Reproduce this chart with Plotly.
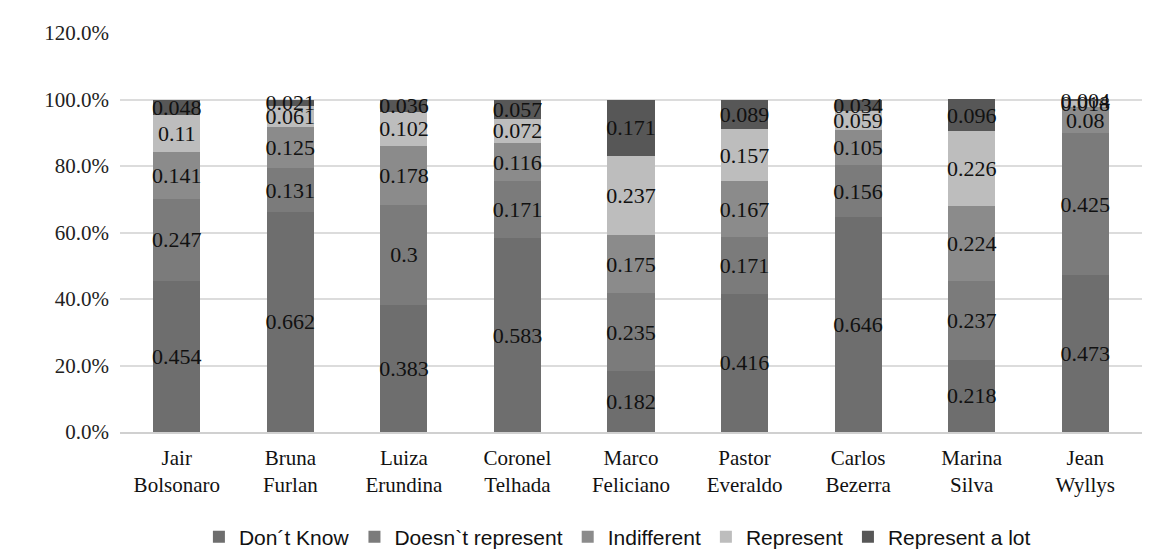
import plotly.graph_objects as go

categories = ["Jair<br>Bolsonaro", "Bruna<br>Furlan", "Luiza<br>Erundina", "Coronel<br>Telhada",
              "Marco<br>Feliciano", "Pastor<br>Everaldo", "Carlos<br>Bezerra", "Marina<br>Silva", "Jean<br>Wyllys"]
dont_know = [0.454, 0.662, 0.383, 0.583, 0.182, 0.416, 0.646, 0.218, 0.473]
doesnt_represent = [0.247, 0.131, 0.3, 0.171, 0.235, 0.171, 0.156, 0.237, 0.425]
indifferent = [0.141, 0.125, 0.178, 0.116, 0.175, 0.167, 0.105, 0.224, 0.08]
represent = [0.11, 0.061, 0.102, 0.072, 0.237, 0.157, 0.059, 0.226, 0.018]
represent_a_lot = [0.048, 0.021, 0.036, 0.057, 0.171, 0.089, 0.034, 0.096, 0.004]

series = [
    ("Don\u00b4t Know", dont_know, "#6e6e6e"),
    ("Doesn`t represent", doesnt_represent, "#7b7b7b"),
    ("Indifferent", indifferent, "#8b8b8b"),
    ("Represent", represent, "#bdbdbd"),
    ("Represent a lot", represent_a_lot, "#575757"),
]

SERIF = "Liberation Serif, Times New Roman, Tinos, DejaVu Serif, serif"

fig = go.Figure()
for name, vals, color in series:
    fig.add_trace(go.Bar(
        x=categories, y=vals, name=name,
        marker=dict(color=color, line=dict(width=0)),
        text=[f"{v:g}" for v in vals],
        textposition="inside", insidetextanchor="middle",
        textfont=dict(family=SERIF, size=22, color="#111111"),
        textangle=0, cliponaxis=False,
    ))

fig.update_layout(
    barmode="stack", bargap=0.585,
    width=1152, height=542,
    margin=dict(l=112, r=18, t=25, b=118),
    plot_bgcolor="white", paper_bgcolor="white",
    uniformtext=dict(minsize=22, mode="show"),
    legend=dict(orientation="h", x=0.529, xanchor="center", xref="container",
                y=0.024, yanchor="middle", yref="container",
                font=dict(family="Liberation Sans", size=21, color="#111111"),
                itemwidth=30, traceorder="normal"),
    showlegend=True,
)
fig.update_yaxes(range=[0, 1.2], dtick=0.2, tickformat=".1%",
                 showgrid=True, gridcolor="#dcdcdc", gridwidth=1.5,
                 zeroline=False, showline=False, ticks="",
                 tickfont=dict(family=SERIF, size=21, color="#222222"),
                 ticklabelstandoff=10)
fig.update_xaxes(showline=True, linecolor="#d0d0d0", linewidth=1.5, ticks="",
                 tickfont=dict(family=SERIF, size=21, color="#111111"),
                 ticklabelstandoff=6)

fig.write_html("out.html")
